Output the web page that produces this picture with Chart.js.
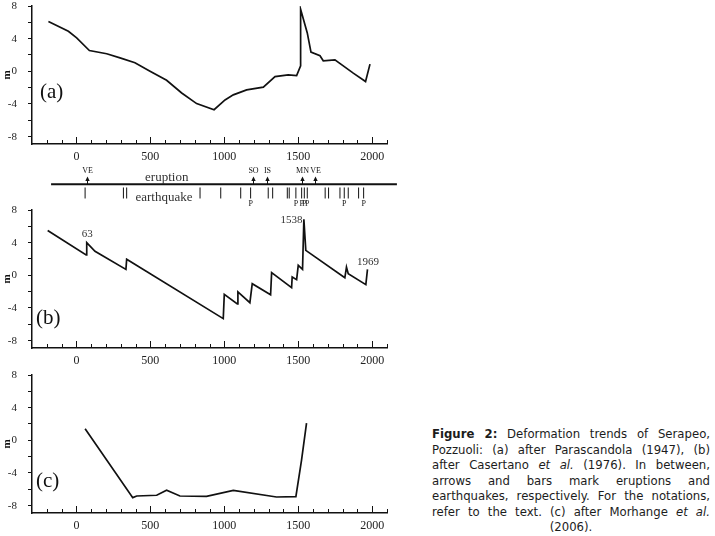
<!DOCTYPE html>
<html>
<head>
<meta charset="utf-8">
<script src="https://cdn.jsdelivr.net/npm/chart.js@4.4.0/dist/chart.umd.min.js"></script>
<style>
  html, body { margin: 0; padding: 0; background: #fff; width: 715px; height: 536px; overflow: hidden; }
  canvas { position: absolute; left: 0; }
  #caption { position: absolute; left: 432px; top: 427px; width: 278px; color: #1c1c1c;
             font: 11.7px "DejaVu Sans", Verdana, sans-serif; line-height: 15.5px; }
  #caption div { text-align: justify; text-align-last: justify; white-space: nowrap; }
  #caption div.last { text-align: center; text-align-last: center; }
</style>
</head>
<body>
<canvas id="chartA" width="400" height="170" style="top:0px"></canvas>
<canvas id="strip" width="420" height="56" style="top:160px"></canvas>
<canvas id="chartB" width="400" height="170" style="top:204px"></canvas>
<canvas id="chartC" width="400" height="170" style="top:369px"></canvas>

<div id="caption">
  <div><b>Figure 2:</b> Deformation trends of Serapeo,</div>
  <div>Pozzuoli: (a) after Parascandola (1947), (b)</div>
  <div>after Casertano <i>et al.</i> (1976). In between,</div>
  <div>arrows and bars mark eruptions and</div>
  <div>earthquakes, respectively. For the notations,</div>
  <div>refer to the text. (c) after Morhange <i>et al.</i></div>
  <div class="last">(2006).</div>
</div>

<script>
// (a) Parascandola 1947
const yearsA = [-189, -54, 2, 88, 205, 295, 396, 498, 610, 712, 813, 931, 1005, 1061, 1151, 1264, 1343, 1432, 1489, 1516, 1516, 1561, 1586, 1647, 1669, 1748, 1872, 1955, 1985];
const levelA = [6.1, 4.9, 4.1, 2.55, 2.15, 1.65, 1.05, 0.0, -1.1, -2.65, -3.95, -4.7, -3.5, -2.88, -2.27, -1.94, -0.64, -0.43, -0.51, 0.67, 7.6, 4.7, 2.35, 1.9, 1.29, 1.41, -0.22, -1.25, 0.88];

// (b) Casertano et al. 1976
const yearsB = [-194, 66, 70, 126, 335, 340, 993, 1000, 1088, 1092, 1173, 1189, 1313, 1320, 1455, 1459, 1489, 1500, 1529, 1538, 1551, 1815, 1826, 1838, 1957, 1968];
const levelB = [5.5, 2.5, 4.0, 2.95, 0.73, 1.96, -5.3, -2.33, -3.5, -2.04, -3.35, -1.02, -2.37, 0.33, -1.5, -0.2, -0.53, 1.22, 0.73, 6.86, 3.06, -0.3, 1.0, 0.2, -1.14, 0.73];
const noteTextB = ['63', '1538', '1969'];
const noteYearB = [73, 1455, 1971];
const noteLevelB = [5.1, 6.77, 1.64];

// (c) Morhange et al. 2006
const yearsC = [59, 381, 408, 543, 610, 700, 880, 1061, 1353, 1484, 1522, 1556];
const levelC = [1.43, -7.02, -6.82, -6.73, -6.12, -6.82, -6.86, -6.12, -6.94, -6.9, -2.45, 2.12];

// eruptions (arrows) and earthquakes (bars)
const eruptionYears = [70, 1192, 1286, 1523, 1613];
const eruptionNames = ['VE', 'SO', 'IS', 'MN', 'VE'];
const quakeYears = [59, 318, 340, 836, 976, 1111, 1178, 1297, 1327, 1426, 1439, 1484, 1523, 1541, 1561, 1682, 1705, 1782, 1811, 1838, 1908, 1942];
const pYears = [1178, 1484, 1523, 1541, 1561, 1811, 1942];

const xTickValues = [0, 500, 1000, 1500, 2000];
const yTickValues = [-8, -6, -4, -2, 0, 2, 4, 6, 8];

Chart.defaults.font.family = '"Liberation Serif", "Times New Roman", serif';
Chart.defaults.color = '#222';

const INK = '#111';

const panelDeco = {
  id: 'panelDeco',
  afterDraw(chart, args, opts) {
    const { ctx, scales: { x, y } } = chart;
    ctx.save();
    // inward ticks on the year axis
    ctx.strokeStyle = INK;
    ctx.lineWidth = 1;
    for (let v = -200; v <= 2100; v += 100) {
      const px = Math.round(x.getPixelForValue(v)) + 0.5;
      const len = v % 500 === 0 ? 7 : 4;
      ctx.beginPath();
      ctx.moveTo(px, y.bottom);
      ctx.lineTo(px, y.bottom - len);
      ctx.stroke();
    }
    ctx.fillStyle = INK;
    ctx.textBaseline = 'middle';
    ctx.textAlign = 'left';
    ctx.font = '21px "Liberation Serif", serif';
    ctx.fillText(opts.label, opts.lx, opts.ly);
    ctx.fillStyle = '#333';
    ctx.textAlign = 'center';
    ctx.font = '11px "Liberation Serif", serif';
    (opts.notes || []).forEach(n => {
      ctx.fillText(n.text, x.getPixelForValue(n.x), y.getPixelForValue(n.y));
    });
    ctx.restore();
  }
};

function panel(id, years, levels, label, lx, ly, notes) {
  new Chart(document.getElementById(id), {
    type: 'scatter',
    data: {
      datasets: [{
        data: years.map((yr, i) => ({ x: yr, y: levels[i] })),
        showLine: true,
        borderColor: INK,
        borderWidth: 1.7,
        pointRadius: 0,
        tension: 0
      }]
    },
    plugins: [panelDeco],
    options: {
      responsive: false,
      animation: false,
      layout: { padding: { top: 6, right: 13, left: 0, bottom: 0 } },
      plugins: {
        legend: { display: false },
        tooltip: { enabled: false },
        panelDeco: { label, lx, ly, notes }
      },
      scales: {
        x: {
          type: 'linear', min: -300, max: 2100,
          afterBuildTicks: s => { s.ticks = xTickValues.map(v => ({ value: v })); },
          afterFit: s => { s.height = 26; s.paddingLeft = 0; s.paddingRight = 0; },
          grid: { display: false, drawTicks: false },
          border: { display: true, color: INK, width: 1.5 },
          ticks: { padding: 6, font: { size: 12 }, maxRotation: 0, autoSkip: false, callback: v => String(v) }
        },
        y: {
          min: -8.9, max: 8,
          afterBuildTicks: s => { s.ticks = yTickValues.map(v => ({ value: v })); },
          afterFit: s => { s.width = 32; s.paddingTop = 0; s.paddingBottom = 0; },
          grid: { display: true, drawOnChartArea: false, drawTicks: true, tickLength: 4, color: INK, lineWidth: 1 },
          border: { display: true, color: INK, width: 1.5 },
          ticks: { padding: 11, font: { size: 11 }, autoSkip: false, callback: v => (v % 4 === 0 ? String(v) : '') },
          title: { display: true, text: 'm', color: INK, font: { size: 11, weight: 'bold' }, padding: { top: 1, bottom: 0 } }
        }
      }
    }
  });
}

panel('chartA', yearsA, levelA, '(a)', 40, 92, []);
panel('chartB', yearsB, levelB, '(b)', 36, 114,
  noteTextB.map((t, i) => ({ text: t, x: noteYearB[i], y: noteLevelB[i] })));
panel('chartC', yearsC, levelC, '(c)', 36, 112, []);

// strip between (a) and (b): y is in pixels above the time line
const stripDeco = {
  id: 'stripDeco',
  afterDatasetsDraw(chart) {
    const { ctx, scales: { x, y } } = chart;
    ctx.save();
    ctx.fillStyle = INK;
    ctx.strokeStyle = INK;
    ctx.lineWidth = 1;
    ctx.textAlign = 'center';
    ctx.textBaseline = 'middle';
    const y0 = y.getPixelForValue(0);
    const tip = y.getPixelForValue(10);
    eruptionYears.forEach((yr, i) => {
      const px = Math.round(x.getPixelForValue(yr)) + 0.5;
      ctx.beginPath();
      ctx.moveTo(px, y0);
      ctx.lineTo(px, tip + 3);
      ctx.stroke();
      ctx.beginPath();
      ctx.moveTo(px, tip);
      ctx.lineTo(px - 2.2, tip + 4.5);
      ctx.lineTo(px + 2.2, tip + 4.5);
      ctx.closePath();
      ctx.fill();
      ctx.font = '8px "Liberation Serif", serif';
      ctx.fillText(eruptionNames[i], px, y.getPixelForValue(17));
    });
    ctx.font = '8px "Liberation Serif", serif';
    pYears.forEach(yr => ctx.fillText('P', x.getPixelForValue(yr), y.getPixelForValue(-25.5)));
    ctx.font = '13px "Liberation Serif", serif';
    ctx.fillStyle = '#333';
    ctx.fillText('eruption', x.getPixelForValue(611), y.getPixelForValue(8.5));
    ctx.fillText('earthquake', x.getPixelForValue(592), y.getPixelForValue(-17.5));
    ctx.restore();
  }
};

new Chart(document.getElementById('strip'), {
  type: 'scatter',
  data: {
    datasets: [
      {
        data: [{ x: -171, y: 0 }, { x: 2167, y: 0 }],
        showLine: true, borderColor: INK, borderWidth: 2, pointRadius: 0, clip: false
      },
      {
        data: quakeYears.map(yr => ({ x: yr, y: -11.5 })),
        showLine: false, pointStyle: 'line', rotation: 90, pointRadius: 5.5,
        borderColor: INK, borderWidth: 1
      }
    ]
  },
  plugins: [stripDeco],
  options: {
    responsive: false,
    animation: false,
    layout: { padding: { left: 32, right: 33, top: 0, bottom: 0 } },
    plugins: { legend: { display: false }, tooltip: { enabled: false } },
    scales: {
      x: { type: 'linear', min: -300, max: 2100, display: false },
      y: { min: -33, max: 23, display: false }
    }
  }
});
</script>
</body>
</html>
